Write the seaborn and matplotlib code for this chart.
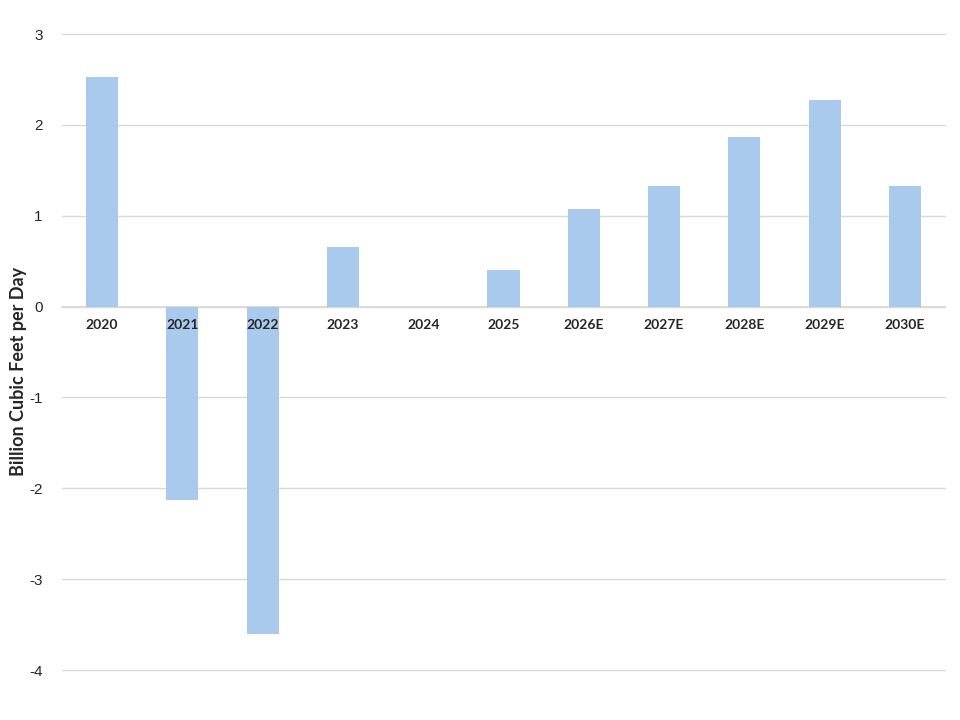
import pandas as pd
import seaborn as sns
import matplotlib.pyplot as plt

years = ["2020", "2021", "2022", "2023", "2024", "2025",
         "2026E", "2027E", "2028E", "2029E", "2030E"]
change = [2.53, -2.13, -3.60, 0.66, 0.0, 0.40, 1.07, 1.33, 1.87, 2.27, 1.33]

df = pd.DataFrame({"year": years, "value": change})

sns.set_theme(style="white")
plt.rcParams["font.family"] = ["Lato", "DejaVu Sans"]
plt.rcParams["axes.unicode_minus"] = False

fig = plt.figure(figsize=(9.6, 7.2), dpi=100)
ax = fig.add_axes([62/960, 50/720, 883/960, 636/720])

sns.barplot(data=df, x="year", y="value", color="#A9CAEC", saturation=1,
            width=0.4, linewidth=0, ax=ax, zorder=3)

ax.set_ylim(-4, 3)
ax.set_xlim(-0.5, 10.5)
ax.set_yticks(range(-4, 4))
ax.yaxis.grid(True, color="#D9D9D9", linewidth=1)
for gl in ax.get_ygridlines():
    gl.set_clip_on(False)
ax.yaxis.set_zorder(0.5)
ax.xaxis.set_zorder(5)
for s in ["top", "right", "left"]:
    ax.spines[s].set_visible(False)
ax.spines["bottom"].set_position(("data", 0))
ax.spines["bottom"].set_color("#D9D9D9")
ax.spines["bottom"].set_zorder(1)

ax.tick_params(axis="x", length=0, pad=9)
ax.tick_params(axis="y", length=0, pad=14)
for lbl in ax.get_xticklabels():
    lbl.set_fontweight("bold")
    lbl.set_fontsize(10)
for lbl in ax.get_yticklabels():
    lbl.set_fontfamily("Liberation Sans")
    lbl.set_fontsize(11)

ax.set_xlabel("")
ax.set_ylabel("Billion Cubic Feet per Day", fontsize=13, fontweight="bold")
ax.yaxis.set_label_coords(-35/883, 0.5 - 19/636)

fig.savefig("out.png", dpi=100)
